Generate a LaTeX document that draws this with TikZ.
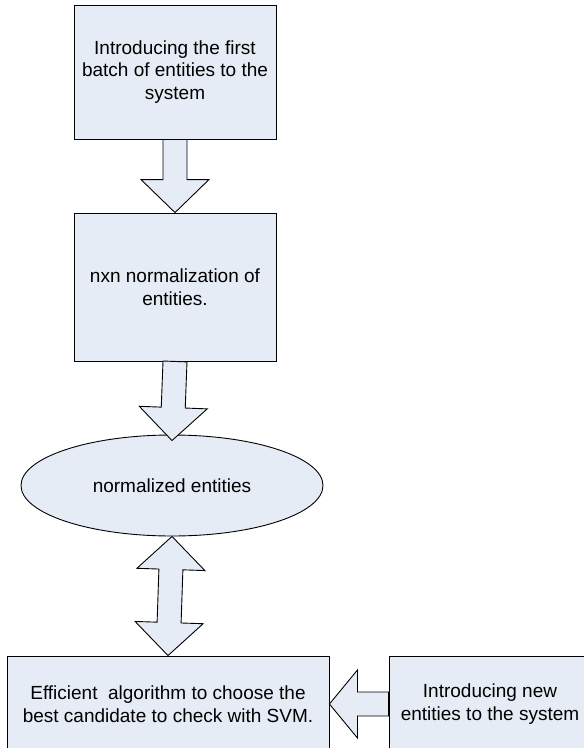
\documentclass[tikz,border=0pt]{standalone}
\usepackage{fontspec}
\setmainfont{Liberation Sans}
\usepackage{xcolor}
\usepackage{tikz}
\usetikzlibrary{calc,shapes.geometric}
\definecolor{boxfill}{HTML}{E6ECF6}
\definecolor{edge}{HTML}{000000}
\tikzset{
  box/.style={draw=edge, fill=boxfill, line width=0.9pt, align=center, inner sep=0pt, font=\fontsize{19}{22.5}\selectfont},
  ell/.style={box, ellipse},
  fat/.style={draw=edge, fill=boxfill, line width=0.9pt, line join=miter},
}
% block arrow: [head length]{tail}{tip}
\newcommand{\fatarrow}[3][33pt]{%
  \path ($(#3)!#1!(#2)$) coordinate (hb);
  \draw[fat] ($(#2)!12pt!90:(#3)$) -- ($(hb)!12pt!90:(#3)$) -- ($(hb)!34pt!90:(#3)$) -- (#3)
    -- ($(hb)!34pt!-90:(#3)$) -- ($(hb)!12pt!-90:(#3)$) -- ($(#2)!12pt!-90:(#3)$) -- cycle;}
% block arrow with two heads
\newcommand{\fatdarrow}[2]{%
  \path ($(#1)!33pt!(#2)$) coordinate (ha) ($(#2)!33pt!(#1)$) coordinate (hb);
  \draw[fat] (#1) -- ($(ha)!34pt!90:(#2)$) -- ($(ha)!12pt!90:(#2)$) -- ($(hb)!12pt!90:(#2)$)
    -- ($(hb)!34pt!90:(#2)$) -- (#2) -- ($(hb)!34pt!-90:(#2)$) -- ($(hb)!12pt!-90:(#2)$)
    -- ($(ha)!12pt!-90:(#2)$) -- ($(ha)!34pt!-90:(#2)$) -- cycle;}
\begin{document}
\begin{tikzpicture}[x=1pt,y=-1pt]
\clip (0,0) rectangle (584,748);
\node[box, minimum width=202pt, minimum height=134pt] (first) at (175,72) {Introducing the first\\batch of entities to the\\system};
\node[box, minimum width=202pt, minimum height=148pt] (norm) at (175,287) {nxn normalization of\\entities.};
\node[ell, minimum width=302pt, minimum height=101pt] (normd) at (172,485.5) {normalized entities};
\node[box, minimum width=322pt, minimum height=96pt] (algo) at (168,704) {Efficient\ \ algorithm to choose the\\best candidate to check with SVM.};
\node[box, minimum width=202pt, minimum height=96pt] (new) at (490,704) {Introducing new\\entities to the system};
\coordinate (tip2) at ($(normd.north)+(0,6)$);
\fatarrow{first.south}{norm.north}
\fatarrow{norm.south}{tip2}
\fatdarrow{normd.south}{algo.north}
\fatarrow[28pt]{new.west}{algo.east}
\end{tikzpicture}
\end{document}
